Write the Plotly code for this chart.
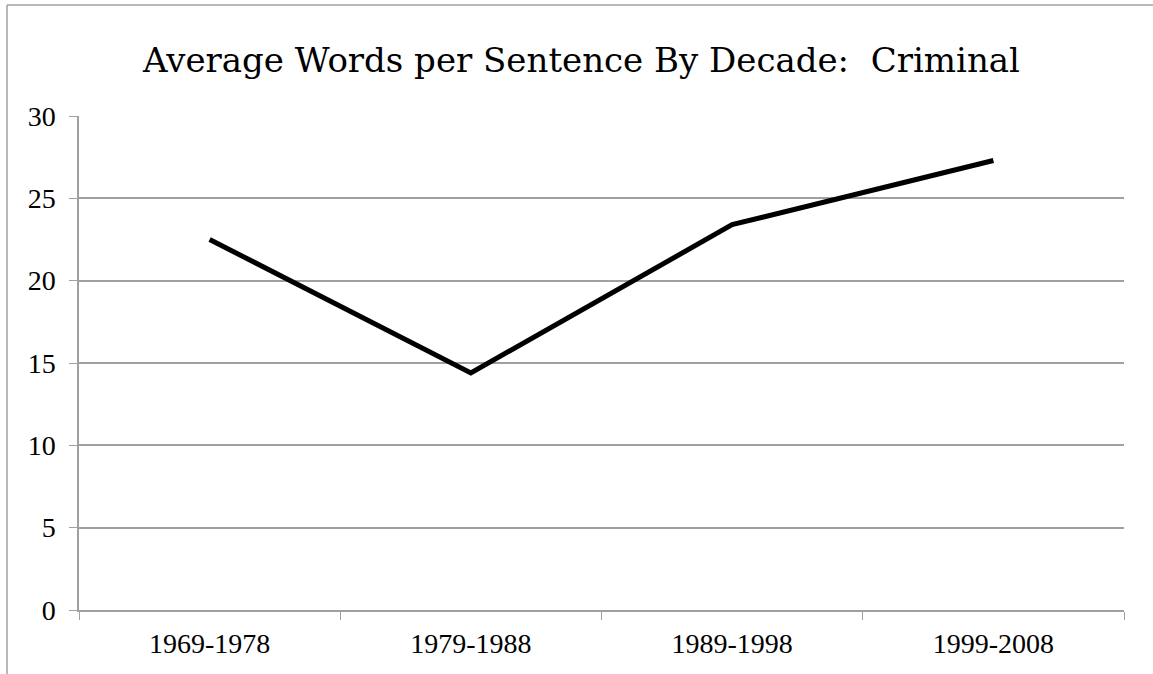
import plotly.graph_objects as go

decades = ["1969-1978", "1979-1988", "1989-1998", "1999-2008"]
avg_words = [22.5, 14.4, 23.4, 27.3]
y_ticks = [0, 5, 10, 15, 20, 25, 30]

W, H = 1153, 674
L, R, T, B = 79, 29, 116, 64
pw, ph = W - L - R, H - T - B

GRID = "#a0a0a0"
TITLE_FONT = "DejaVu Serif"
TICK_FONT = "Liberation Serif"

fig = go.Figure(
    go.Scatter(
        x=decades,
        y=avg_words,
        mode="lines",
        line=dict(color="black", width=5),
        hoverinfo="x+y",
    )
)

frame_left = (7 - L) / pw
frame_top = (H - 5 - B) / ph

fig.update_layout(
    width=W,
    height=H,
    margin=dict(l=L, r=R, t=T, b=B),
    paper_bgcolor="white",
    plot_bgcolor="white",
    showlegend=False,
    title=dict(
        text="Average Words per Sentence By Decade:  Criminal",
        font=dict(family=TITLE_FONT, size=34, color="black"),
        x=(581.5 - L) / pw,
        xanchor="center",
        xref="paper",
        y=1 - 60 / H,
        yref="container",
        yanchor="middle",
    ),
    xaxis=dict(
        type="category",
        range=[-0.5, len(decades) - 0.5],
        tickson="boundaries",
        ticks="outside",
        ticklen=8,
        tickcolor=GRID,
        showline=True,
        linecolor=GRID,
        linewidth=1.5,
        showgrid=False,
        tickfont=dict(family=TICK_FONT, size=28, color="black"),
        ticklabelstandoff=8,
    ),
    yaxis=dict(
        range=[0, 30],
        tickvals=y_ticks,
        ticks="outside",
        ticklen=8,
        tickcolor=GRID,
        showline=True,
        linecolor=GRID,
        linewidth=1.5,
        showgrid=True,
        gridcolor=GRID,
        gridwidth=1.5,
        zeroline=False,
        tickfont=dict(family=TICK_FONT, size=28, color="black"),
        ticklabelstandoff=8,
    ),
    shapes=[
        # outer chart frame: left and top edges
        dict(type="line", xref="paper", yref="paper",
             x0=frame_left, x1=frame_left, y0=-(B + 10) / ph, y1=frame_top,
             line=dict(color=GRID, width=1.5), layer="below"),
        dict(type="line", xref="paper", yref="paper",
             x0=frame_left, x1=(W + 10 - L) / pw, y0=frame_top, y1=frame_top,
             line=dict(color=GRID, width=1.5), layer="below"),
    ],
)

fig.write_html("out.html")
